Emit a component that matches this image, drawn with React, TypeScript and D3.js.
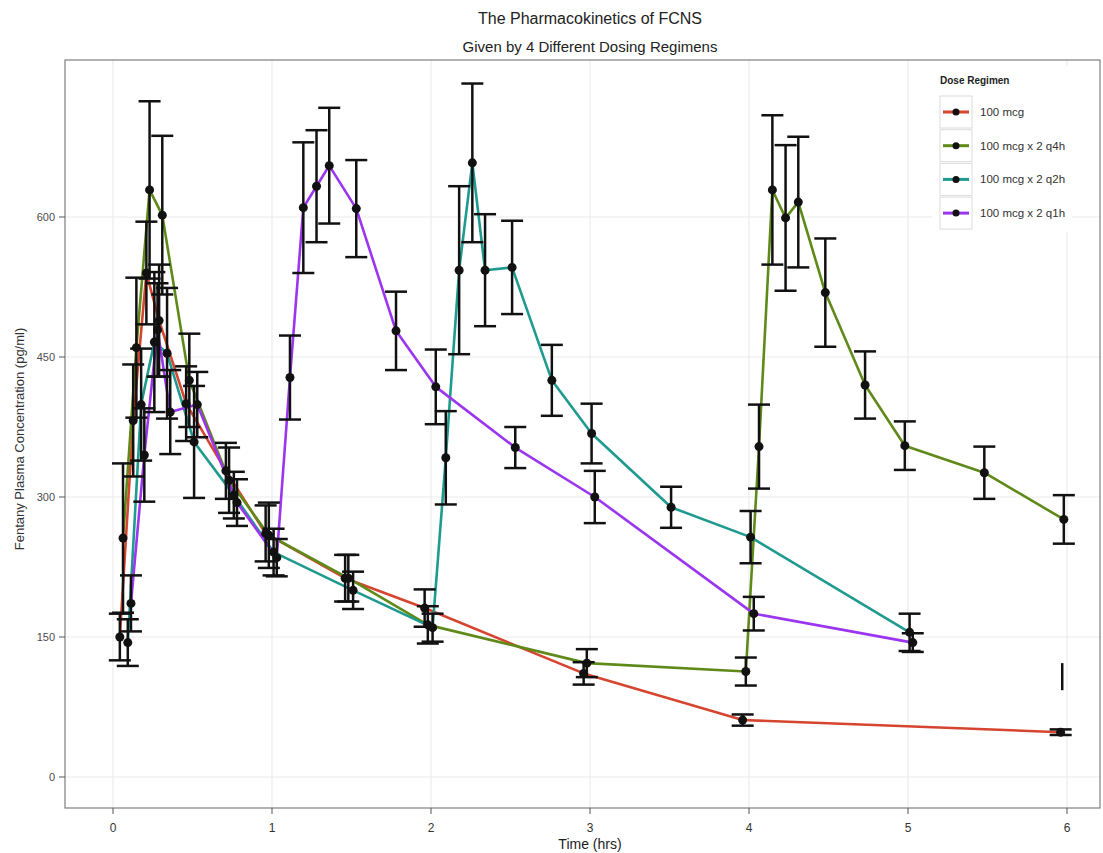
import * as d3 from "d3";

// time (hrs), mean conc (pg/ml), sd
const mcg100 = [
  [0.083, 150, 25], [0.167, 382, 60], [0.25, 540, 55], [0.33, 489, 60], [0.5, 400, 40],
  [0.75, 328, 30], [1, 261, 30], [1.5, 213, 25], [2, 181, 20], [3, 111, 12], [4, 61, 6], [6, 48, 3],
];
const q4h = [
  [0.083, 256, 80], [0.167, 460, 75], [0.25, 629, 95], [0.33, 602, 85], [0.5, 425, 50],
  [0.75, 318, 35], [1, 259, 35], [1.5, 213, 25], [2, 163, 20], [3, 122, 15], [4, 113, 15],
  [4.083, 354, 45], [4.167, 629, 80], [4.25, 599, 78], [4.33, 616, 70], [4.5, 519, 58],
  [4.75, 420, 36], [5, 355, 26], [5.5, 326, 28], [6, 276, 26],
];
const q2h = [
  [0.083, 144, 25], [0.167, 399, 60], [0.25, 466, 75], [0.33, 454, 70], [0.5, 359, 60],
  [0.75, 302, 25], [1, 241, 25], [1.5, 200, 20], [2, 160, 15], [2.083, 342, 50],
  [2.167, 543, 90], [2.25, 658, 85], [2.33, 543, 60], [2.5, 546, 50], [2.75, 425, 38],
  [3, 368, 32], [3.5, 289, 22], [4, 257, 28], [5, 155, 20],
];
const q1h = [
  [0.083, 186, 30], [0.167, 345, 50], [0.25, 479, 50], [0.33, 391, 45], [0.5, 399, 35],
  [0.75, 294, 25], [1, 235, 20], [1.083, 428, 45], [1.167, 610, 70], [1.25, 633, 60],
  [1.33, 655, 62], [1.5, 609, 52], [1.75, 478, 42], [2, 418, 40], [2.5, 353, 22],
  [3, 300, 28], [4, 175, 18], [5, 144, 10],
];
// an error bar at 6 h with no point drawn
const strayBars = [[5.97, 93, 122]];

const regimens = ["100 mcg", "100 mcg x 2 q4h", "100 mcg x 2 q2h", "100 mcg x 2 q1h"];
const seriesData = [mcg100, q4h, q2h, q1h];
const colors = ["#d6452f", "#5f8a1a", "#1f9a8e", "#9b35f0"];
const dodge = [-0.04, -0.02, 0.01, 0.03];

const xTicks = [0, 1, 2, 3, 4, 5, 6];
const yTicks = [0, 150, 300, 450, 600];
const yTickLabels = ["0", "150", "300", "450", "600"];

const W = 1103;
const H = 853;
const panel = { left: 65, right: 1100, top: 60, bottom: 808 };

const App = () => {
  const x = d3.scaleLinear().domain([0, 6]).range([113, 1067]);
  const y = d3.scaleLinear().domain([0, 600]).range([777, 217]);
  const font = "'Liberation Sans', Arial, sans-serif";

  const series = seriesData.map((rows, i) =>
    rows.map(([t, v, sd]) => ({ t: t + dodge[i], v, sd }))
  );

  const line = d3
    .line<{ t: number; v: number }>()
    .x((d) => x(d.t))
    .y((d) => y(d.v));

  const cap = 11;

  return (
    <svg
      width={W}
      height={H}
      style={{ position: "absolute", left: 0, top: 0, background: "#fff" }}
      fontFamily={font}
    >
      <text x={590} y={24} textAnchor="middle" fontSize={16} fill="#222">
        The Pharmacokinetics of FCNS
      </text>
      <text x={590} y={52} textAnchor="middle" fontSize={15} fill="#222">
        Given by 4 Different Dosing Regimens
      </text>

      {/* grid */}
      {xTicks.map((t) => (
        <line key={"gx" + t} x1={x(t)} x2={x(t)} y1={panel.top} y2={panel.bottom} stroke="#ececec" strokeWidth={1.2} />
      ))}
      {yTicks.map((v) => (
        <line key={"gy" + v} x1={panel.left} x2={panel.right} y1={y(v)} y2={y(v)} stroke="#ececec" strokeWidth={1.2} />
      ))}

      <rect
        x={panel.left}
        y={panel.top}
        width={panel.right - panel.left}
        height={panel.bottom - panel.top}
        fill="none"
        stroke="#7f7f7f"
        strokeWidth={1.2}
      />

      {/* axes */}
      {yTicks.map((v, i) => (
        <g key={"yt" + v}>
          <line x1={panel.left - 6} x2={panel.left} y1={y(v)} y2={y(v)} stroke="#555" />
          <text x={panel.left - 10} y={y(v) + 4} textAnchor="end" fontSize={11} fill="#4d4d4d">
            {yTickLabels[i]}
          </text>
        </g>
      ))}
      {xTicks.map((t) => (
        <g key={"xt" + t}>
          <line x1={x(t)} x2={x(t)} y1={panel.bottom} y2={panel.bottom + 6} stroke="#555" />
          <text x={x(t)} y={panel.bottom + 24} textAnchor="middle" fontSize={12} fill="#333">
            {t}
          </text>
        </g>
      ))}
      <text x={590} y={849} textAnchor="middle" fontSize={14} fill="#222">
        Time (hrs)
      </text>
      <text
        transform={`translate(24,${(panel.top + panel.bottom) / 2 + 5}) rotate(-90)`}
        textAnchor="middle"
        fontSize={13}
        fill="#333"
      >
        Fentany Plasma Concentration (pg/ml)
      </text>

      {/* lines */}
      {series.map((s, i) => (
        <path key={"l" + i} d={line(s) || ""} fill="none" stroke={colors[i]} strokeWidth={2.6} strokeLinejoin="round" />
      ))}

      {/* error bars */}
      {series.map((s, i) =>
        s.map((d, j) => {
          const cx = x(d.t);
          const y1 = y(d.v + d.sd);
          const y2 = y(d.v - d.sd);
          return (
            <g key={"e" + i + "-" + j} stroke="#111" strokeWidth={2.5}>
              <line x1={cx} x2={cx} y1={y1} y2={y2} />
              <line x1={cx - cap} x2={cx + cap} y1={y1} y2={y1} />
              <line x1={cx - cap} x2={cx + cap} y1={y2} y2={y2} />
            </g>
          );
        })
      )}
      {strayBars.map(([t, lo, hi], j) => (
        <line key={"s" + j} x1={x(t)} x2={x(t)} y1={y(hi)} y2={y(lo)} stroke="#111" strokeWidth={2.5} />
      ))}

      {/* points */}
      {series.map((s, i) =>
        s.map((d, j) => (
          <circle key={"p" + i + "-" + j} cx={x(d.t)} cy={y(d.v)} r={4.5} fill="#111" />
        ))
      )}

      {/* legend */}
      <g>
        <rect x={932} y={66} width={140} height={166} fill="#fff" />
        <text x={940} y={84} fontSize={10} fontWeight="bold" fill="#222">
          Dose Regimen
        </text>
        {regimens.map((name, i) => {
          const cy = 112 + i * 33.7;
          return (
            <g key={"lg" + i}>
              <rect x={940} y={cy - 16} width={32} height={32} fill="#fff" stroke="#dcdcdc" />
              <line x1={943} x2={969} y1={cy} y2={cy} stroke={colors[i]} strokeWidth={3} />
              <circle cx={956} cy={cy} r={3.5} fill="#111" />
              <text x={980} y={cy + 4} fontSize={11.5} fill="#333">
                {name}
              </text>
            </g>
          );
        })}
      </g>
    </svg>
  );
};

export default App;
